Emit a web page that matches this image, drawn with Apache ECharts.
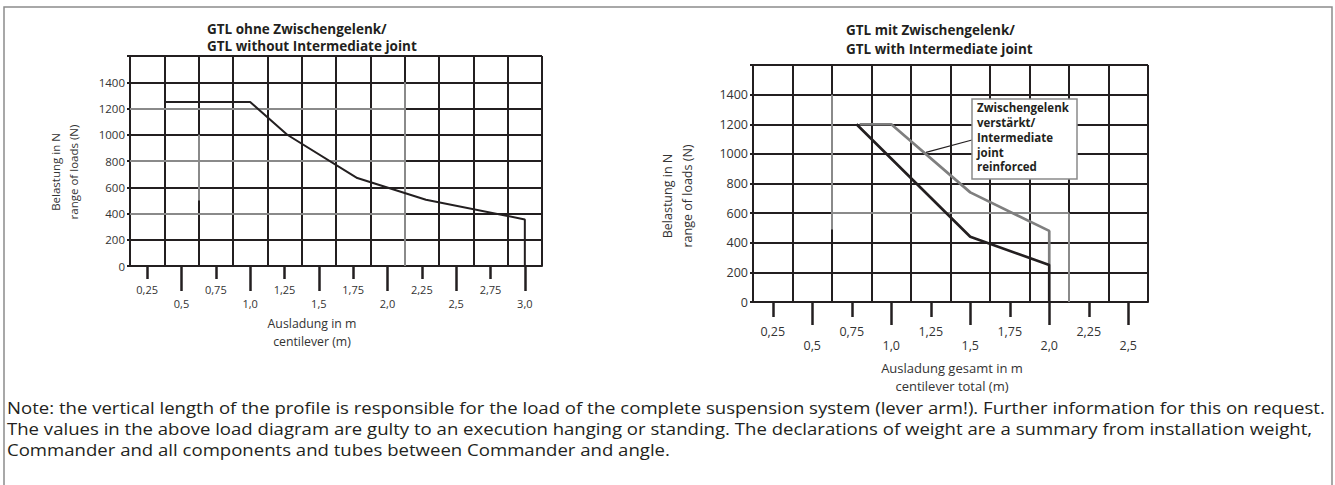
<!DOCTYPE html>
<html>
<head>
<meta charset="utf-8">
<script src="https://cdn.jsdelivr.net/npm/echarts@6/dist/echarts.min.js"></script>
<style>
  html, body { margin: 0; padding: 0; background: #fff; }
  #chart { width: 1335px; height: 485px; }
</style>
</head>
<body>
<div id="chart"></div>
<script>
// GTL without intermediate joint: cantilever (m) -> permitted load (N)
const withoutJointReach = [0.375, 1.0, 1.27, 1.78, 2.28, 3.0, 3.0];
const withoutJointLoad  = [1250, 1250, 1000, 670, 505, 355, 0];

// GTL with intermediate joint, standard joint
const withJointReach = [0.78, 1.5, 2.0, 2.0];
const withJointLoad  = [1200, 440, 250, 0];

// GTL with intermediate joint, reinforced joint
const reinforcedReach = [0.8, 1.0, 1.5, 2.0, 2.0];
const reinforcedLoad  = [1200, 1200, 740, 480, 250];

// Axis tick labels
const loadTicks = [0, 200, 400, 600, 800, 1000, 1200, 1400];
const leftReachUpper  = [0.25, 0.75, 1.25, 1.75, 2.25, 2.75];
const leftReachLower  = [0.5, 1.0, 1.5, 2.0, 2.5, 3.0];
const rightReachUpper = [0.25, 0.75, 1.25, 1.75, 2.25];
const rightReachLower = [0.5, 1.0, 1.5, 2.0, 2.5];

// Grid lines printed in grey instead of black (axis values)
const leftGreyLines = [
  [[0.125, 1200], [2.125, 1200]],
  [[0.125, 800], [2.125, 800]],
  [[0.125, 400], [2.125, 400]],
  [[2.125, 0], [2.125, 1400]],
  [[0.625, 500], [0.625, 1000]]
];
const rightGreyLines = [
  [[0.625, 600], [2.125, 600]],
  [[2.125, 0], [2.125, 600]],
  [[0.625, 490], [0.625, 1400]]
];

// Footnote, one entry per printed line
const noteLines = [
  'Note: the vertical length of the profile is responsible for the load of the complete suspension system (lever arm!). Further information for this on request.',
  'The values in the above load diagram are gulty to an execution hanging or standing. The declarations of weight are a summary from installation weight,',
  'Commander and all components and tubes between Commander and angle.'
];

const INK = '#231f20';
const GREY = '#8a8a8a';
const TEXT = '#333333';
const FONT = '"Open Sans", "Noto Sans", sans-serif';

function commaLabel(v) {
  return Number.isInteger(v) ? v.toFixed(1).replace('.', ',') : String(v).replace('.', ',');
}
function plainLabel(v) { return String(v); }
function pairs(xs, ys) { return xs.map((x, i) => [x, ys[i]]); }
function steps(min, max, step) {
  const out = [];
  for (let v = min; v <= max + 1e-9; v += step) out.push(+v.toFixed(4));
  return out;
}

// One grid: a line axis carrying the grid, plus two tick/label rows
function reachAxes(gridIndex, min, max, upper, lower, s) {
  const base = { gridIndex, type: 'value', min, max, position: 'bottom' };
  return [
    Object.assign({}, base, {
      interval: 0.25,
      axisLine: { show: true, onZero: false, lineStyle: { color: INK, width: 2 } },
      axisTick: { show: false, customValues: steps(min, max, 0.25) },
      axisLabel: { show: false },
      splitLine: { show: true, lineStyle: { color: INK, width: 2 } }
    }),
    Object.assign({}, base, {
      axisLine: { show: false }, splitLine: { show: false },
      axisTick: { show: true, customValues: upper, length: s.shortTick, lineStyle: { color: INK, width: 2.5 } },
      axisLabel: { show: true, customValues: upper, formatter: commaLabel, margin: s.upperMargin,
                   fontSize: s.fontSize, color: TEXT, fontFamily: FONT }
    }),
    Object.assign({}, base, {
      axisLine: { show: false }, splitLine: { show: false },
      axisTick: { show: true, customValues: lower, length: s.longTick, lineStyle: { color: INK, width: 2.5 } },
      axisLabel: { show: true, customValues: lower, formatter: commaLabel, margin: s.lowerMargin,
                   fontSize: s.fontSize, color: TEXT, fontFamily: FONT }
    })
  ];
}

function loadAxis(gridIndex, fontSize) {
  return {
    gridIndex, type: 'value', min: 0, max: 1600, interval: 200,
    axisLine: { show: true, onZero: false, lineStyle: { color: INK, width: 2 } },
    axisTick: { show: true, length: 3, lineStyle: { color: INK, width: 2 } },
    axisLabel: { customValues: loadTicks, formatter: plainLabel, margin: 5,
                 fontSize, color: TEXT, fontFamily: FONT },
    splitLine: { show: true, lineStyle: { color: INK, width: 2 } }
  };
}

function text(x, y, str, font, extra, scaleX) {
  return {
    type: 'text', x, y, scaleX: scaleX || 1, silent: true,
    style: Object.assign({ text: str, font, fill: TEXT, align: 'left', verticalAlign: 'middle',
                           textAlign: 'left', textVerticalAlign: 'middle' }, extra || {})
  };
}
function centered(x, y, str, font, lineHeight, rotation, fill) {
  return {
    type: 'text', x, y, rotation: rotation || 0, silent: true,
    style: { text: str, font, fill: fill || TEXT, lineHeight,
             align: 'center', verticalAlign: 'middle', textAlign: 'center', textVerticalAlign: 'middle' }
  };
}

const chart = echarts.init(document.getElementById('chart'), null, { renderer: 'svg' });

chart.setOption({
  animation: false,
  backgroundColor: '#ffffff',
  grid: [
    { left: 130, top: 56, width: 412, height: 210 },
    { left: 753, top: 65, width: 395, height: 237 }
  ],
  xAxis: [].concat(
    reachAxes(0, 0.125, 3.125, leftReachUpper, leftReachLower,
              { shortTick: 13, longTick: 25, upperMargin: 18, lowerMargin: 32, fontSize: 11 }),
    reachAxes(1, 0.125, 2.625, rightReachUpper, rightReachLower,
              { shortTick: 15, longTick: 23, upperMargin: 23, lowerMargin: 37, fontSize: 12.5 })
  ),
  yAxis: [loadAxis(0, 11.5), loadAxis(1, 12.5)],
  series: [
    {
      type: 'lines', coordinateSystem: 'cartesian2d', xAxisIndex: 0, yAxisIndex: 0, silent: true, z: 3,
      lineStyle: { color: GREY, width: 2, opacity: 1 },
      data: leftGreyLines.map(c => ({ coords: c }))
    },
    {
      type: 'lines', coordinateSystem: 'cartesian2d', xAxisIndex: 3, yAxisIndex: 1, silent: true, z: 3,
      lineStyle: { color: GREY, width: 2, opacity: 1 },
      data: rightGreyLines.map(c => ({ coords: c }))
    },
    {
      name: 'GTL ohne Zwischengelenk', type: 'line', xAxisIndex: 0, yAxisIndex: 0, z: 5,
      data: pairs(withoutJointReach, withoutJointLoad), symbol: 'none',
      lineStyle: { color: INK, width: 2 }
    },
    {
      name: 'Zwischengelenk verstärkt', type: 'line', xAxisIndex: 3, yAxisIndex: 1, z: 5,
      data: pairs(reinforcedReach, reinforcedLoad), symbol: 'none',
      lineStyle: { color: '#7f7f7f', width: 2.7 }
    },
    {
      name: 'GTL mit Zwischengelenk', type: 'line', xAxisIndex: 3, yAxisIndex: 1, z: 6,
      data: pairs(withJointReach, withJointLoad), symbol: 'none',
      lineStyle: { color: INK, width: 2.7 }
    }
  ],
  graphic: [
    { type: 'rect', silent: true, shape: { x: 4, y: 7, width: 1328, height: 520 },
      style: { fill: 'none', stroke: '#8c8c8c', lineWidth: 1.5 } },
    text(207, 29, 'GTL ohne Zwischengelenk/', 'bold 13.5px ' + FONT, { fill: INK }),
    text(207, 46, 'GTL without Intermediate joint', 'bold 13.5px ' + FONT, { fill: INK }),
    text(846, 30, 'GTL mit Zwischengelenk/', 'bold 13.5px ' + FONT, { fill: INK }),
    text(846, 49, 'GTL with Intermediate joint', 'bold 13.5px ' + FONT, { fill: INK }),
    centered(64, 172, 'Belastung in N\nrange of loads (N)', '11.5px ' + FONT, 18, Math.PI / 2),
    centered(677, 196, 'Belastung in N\nrange of loads (N)', '12.5px ' + FONT, 20, Math.PI / 2),
    centered(312, 332, 'Ausladung in m\ncentilever (m)', '12.3px ' + FONT, 18),
    centered(952, 377, 'Ausladung gesamt in m\ncentilever total (m)', '13px ' + FONT, 18)
  ].concat(noteLines.map((line, i) =>
    text(7, 407 + i * 21, line, '17px ' + FONT, { fill: INK }, 1.093)))
});

// Callout for the reinforced joint curve, with its leader starting on that curve
const leaderStart = chart.convertToPixel({ xAxisIndex: 3, yAxisIndex: 1 }, [1.22, 1010]);
const boxX = 972, boxY = 99, boxW = 105, boxH = 80;
chart.setOption({
  graphic: [
    { id: 'callout-leader', type: 'line', silent: true, z: 20,
      shape: { x1: leaderStart[0], y1: leaderStart[1], x2: boxX, y2: 140 },
      style: { stroke: INK, lineWidth: 1.2 } },
    { id: 'callout-box', type: 'rect', silent: true, z: 20,
      shape: { x: boxX, y: boxY, width: boxW, height: boxH },
      style: { fill: '#ffffff', stroke: '#8a8a8a', lineWidth: 1.5 } },
    { id: 'callout-text', type: 'text', silent: true, z: 21, x: boxX + 5, y: boxY + 1.5,
      style: { text: 'Zwischengelenk\nverstärkt/\nIntermediate\njoint\nreinforced',
               font: 'bold 11.5px ' + FONT, fill: INK, lineHeight: 14.75,
               align: 'left', verticalAlign: 'top', textAlign: 'left', textVerticalAlign: 'top' } }
  ]
});
</script>
</body>
</html>
